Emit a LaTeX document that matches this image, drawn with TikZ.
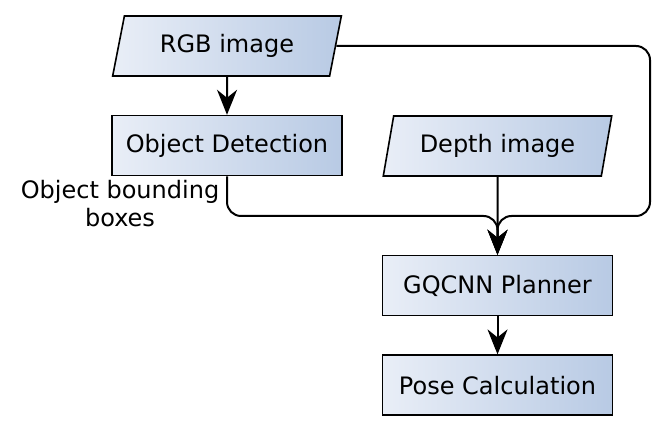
\documentclass[tikz,border=0pt]{standalone}
\usepackage{fontspec}
\setmainfont{DejaVu Sans}
\usepackage{tikz}
\usetikzlibrary{arrows.meta,shapes.geometric}
\usetikzlibrary{positioning}
\definecolor{boxleft}{HTML}{E9EEF7}
\definecolor{boxright}{HTML}{B8CAE4}
\tikzstyle{process} = [rectangle, minimum width=115pt, minimum height=30pt, text centered, draw=black, line width=0.8pt, left color=boxleft, right color=boxright]
\tikzstyle{io} = [trapezium, trapezium left angle=77, trapezium right angle=103, trapezium stretches=true, minimum width=115pt, minimum height=30pt, text centered, draw=black, line width=0.8pt, left color=boxleft, right color=boxright]
\tikzstyle{line} = [draw, line width=1pt, -{Stealth[length=12.5pt,width=10pt,inset=4pt]}]

\begin{document}
\begin{tikzpicture}[node distance=19pt, font=\fontsize{12}{14}\selectfont]
  \useasboundingbox (0,0) rectangle (335pt,-216pt);

  \node (rgb) [io] at (113.5pt,-23pt) {RGB image};
  \node (detect) [process, below=of rgb] {Object Detection};
  \node (depth) [io] at (248.75pt,-73pt) {Depth image};
  \node (planner) [process, below=39pt of depth] {GQCNN Planner};
  \node (pose) [process, below=of planner] {Pose Calculation};
  \node (boxes) [align=center] at (60pt,-102pt) {Object bounding\\boxes};

  \coordinate (merge) at (planner.north |- 0,-108pt);
  \coordinate (side) at (325pt,-108pt);

  \draw [line] (rgb) -- (detect);
  \draw [line, rounded corners=7pt] (detect.south) |- (merge) -- (planner.north);
  \draw [line, rounded corners=7pt] (rgb.east) -| (side) -- (merge) -- (planner.north);
  \draw [line] (depth) -- (planner);
  \draw [line] (planner) -- (pose);
\end{tikzpicture}
\end{document}
